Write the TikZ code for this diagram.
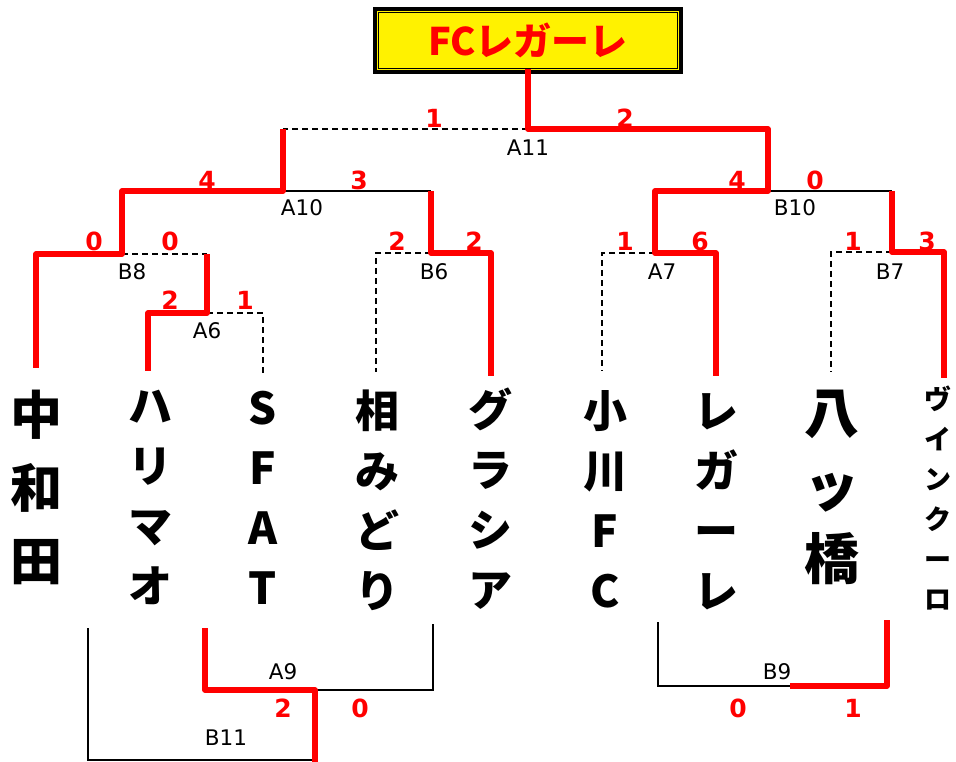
\documentclass[tikz,border=0pt]{standalone}
\usepackage{fontspec}
\setmainfont{DejaVu Sans}
\newfontfamily\jpfont{Noto Sans CJK JP}

\begin{document}
\begin{tikzpicture}
                [
                x=1pt,y=-1pt,
                win/.style={red,line width=5.5pt,line join=round},
                beat/.style={black,line width=1.5pt},
                lost/.style={black,line width=1.5pt,dash pattern=on 6pt off 4pt},
                score/.style={red,font=\bfseries\fontsize{25}{25}\selectfont},
                match/.style={font=\fontsize{21.5}{21.5}\selectfont},
                team/.style={anchor=north,align=center,inner sep=0pt,font=\jpfont\bfseries\fontsize{44}{60}\selectfont},
                frame/.style={draw,line width=4pt,fill=yellow,minimum width=306pt,minimum height=63pt},
                title/.style={draw,line width=1pt,fill=yellow,text=red,minimum width=299pt,minimum height=56pt,font=\jpfont\bfseries\fontsize{38}{38}\selectfont}
                ]
            \useasboundingbox (0,0) rectangle (956,762);
            \node[frame] (frame) at (528,40.5) {};
            \node[title] (champ) at (528,40.5) {FCレガーレ};

            \node[team,font=\jpfont\bfseries\fontsize{52}{73}\selectfont] (t1) at (36,390) {中\\和\\田};
            \node[team] (t2) at (150,390) {ハ\\リ\\マ\\オ};
            \node[team] (t3) at (263,391) {S\\F\\A\\T};
            \node[team] (t4) at (377,390) {相\\み\\ど\\り};
            \node[team] (t5) at (490,388) {グ\\ラ\\シ\\ア};
            \node[team] (t6) at (605,390) {小\\川\\F\\C};
            \node[team] (t7) at (716,393) {レ\\ガ\\ー\\レ};
            \node[team,font=\jpfont\bfseries\fontsize{55}{73}\selectfont] (t8) at (832,390) {八\\ッ\\橋};
            \node[team,font=\jpfont\bfseries\fontsize{27}{40}\selectfont] (t9) at (938,386) {ヴ\\イ\\ン\\ク\\ー\\ロ};

            \coordinate (a11) at (528,129);
            \coordinate (a10) at (283,191);
            \coordinate (b10) at (768,191);
            \coordinate (b8) at (122,254);
            \coordinate (b6) at (431,253);
            \coordinate (a7) at (655,253);
            \coordinate (b7) at (892,252);
            \coordinate (a6) at (207,313);
            \coordinate (a9) at (315,690);
            \coordinate (b11) at (315,760);
            \coordinate (b9) at (790,686);
            \coordinate (out) at (315,770);

            \coordinate (e1) at (36,368);
            \coordinate (e2) at (148,371);
            \coordinate (e3) at (263,375);
            \coordinate (e4) at (376,372);
            \coordinate (e5) at (491,376);
            \coordinate (e6) at (602,371);
            \coordinate (e7) at (716,376);
            \coordinate (e8) at (831,372);
            \coordinate (e9) at (944,378);
            \coordinate (f1) at (88,628);
            \coordinate (f2) at (205,628);
            \coordinate (f4) at (433,624);
            \coordinate (f7) at (658,622);
            \coordinate (f8) at (887,620);

            \draw[lost] (a11) -- (a11 -| a10);
            \draw[beat] (a10) -- (a10 -| b6);
            \draw[beat] (b10) -- (b10 -| b7);
            \draw[lost] (b8) -- (b8 -| a6);
            \draw[lost] (a6) -| (e3);
            \draw[lost] (b6) -| (e4);
            \draw[lost] (a7) -| (e6);
            \draw[lost] (b7) -| (e8);
            \draw[beat] (a9) -| (f4);
            \draw[beat] (b11) -| (f1);
            \draw[beat] (b9) -| (f7);
            \draw[win] (champ.south) -- (a11) -| (b10) -| (a7) -| (e7);
            \draw[win] (a11 -| a10) -- (a10) -| (b8) -| (e1);
            \draw[win] (a10 -| b6) -- (b6) -| (e5);
            \draw[win] (b10 -| b7) -- (b7) -| (e9);
            \draw[win] (b8 -| a6) -- (a6) -| (e2);
            \draw[win] (out) -- (a9) -| (f2);
            \draw[win] (b9) -| (f8);

            \foreach \m/\x/\y in {A11/528/148,A10/302/208,B10/795/208,B8/132/272,B6/434/272,A7/662/272,B7/890/272,A6/207/331,A9/283/672,B11/226/738,B9/777/672}
                \node[match] (\m) at (\x,\y) {\m};
            \foreach \x/\y/\s [count=\i] in {434/118/1,625/118/2,207/180/4,359/180/3,737/180/4,815/180/0,94/241/0,170/241/0,397/241/2,474/241/2,625/241/1,700/241/6,853/241/1,927/241/3,170/300/2,245/300/1,283/708/2,360/708/0,738/708/0,853/708/1}
                \node[score] (s\i) at (\x,\y) {\s};
            \end{tikzpicture}
\end{document}
